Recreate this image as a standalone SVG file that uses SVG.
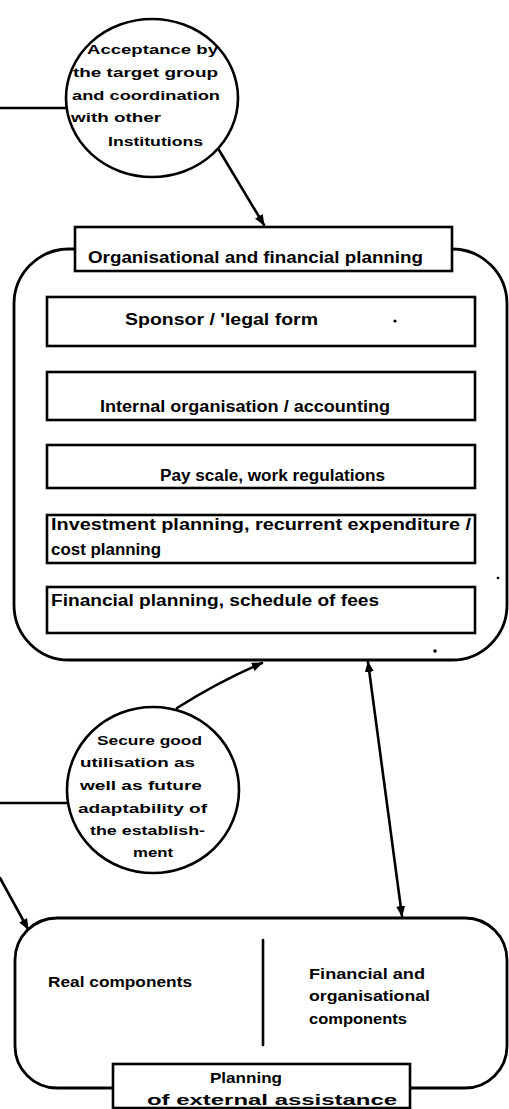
<svg xmlns="http://www.w3.org/2000/svg" width="509" height="1109" viewBox="0 0 509 1109">
  <style>
    .ln { fill: none; stroke: #000; stroke-width: 2.6; stroke-linecap: round; stroke-linejoin: round; }
    .frame { fill: #fff; stroke: #000; stroke-width: 2.8; }
    .box { fill: #fff; stroke: #000; stroke-width: 2.6; }
    .bubble { fill: #fff; stroke: #000; stroke-width: 2.6; }
    text { font-family: "Liberation Sans", Arial, sans-serif; font-weight: bold; fill: #000; }
    .t16 { font-size: 16px; }
    .t15 { font-size: 15.5px; }
    .t14 { font-size: 14px; }
    .t13 { font-size: 13.5px; }
    .speck { fill: #000; }
  </style>
  <defs>
    <marker id="head" markerUnits="userSpaceOnUse" markerWidth="11" markerHeight="9" refX="10" refY="4.5" orient="auto-start-reverse">
      <path d="M0,0 L11,4.5 L0,9 Z" fill="#000"/>
    </marker>
  </defs>

  <rect width="509" height="1109" fill="#fff"/>

  <!-- connectors -->
  <g id="connectors">
    <line class="ln" x1="0" y1="108" x2="67" y2="108"/>
    <line class="ln" x1="219" y1="150" x2="264" y2="225" marker-end="url(#head)"/>
    <line class="ln" x1="0" y1="803" x2="68" y2="803"/>
    <path class="ln" d="M177,708 Q218,682 262,663" marker-end="url(#head)"/>
    <line class="ln" x1="0" y1="878" x2="28" y2="929" marker-end="url(#head)"/>
    <line class="ln" x1="368" y1="662" x2="402" y2="916" marker-start="url(#head)" marker-end="url(#head)"/>
  </g>

  <!-- upper frame: organisational and financial planning -->
  <g id="org-frame">
    <rect class="frame" x="14" y="249" width="493" height="411" rx="55" ry="55"/>
    <rect class="box" x="75" y="227" width="377" height="44"/>
    <text class="t16" x="88" y="263" textLength="335" lengthAdjust="spacingAndGlyphs">Organisational and financial planning</text>
  </g>

  <g id="sponsor">
    <rect class="box" x="47" y="297" width="428" height="49"/>
    <text class="t16" x="125" y="325" textLength="193" lengthAdjust="spacingAndGlyphs">Sponsor / 'legal form</text>
  </g>

  <g id="internal-organisation">
    <rect class="box" x="47" y="372" width="428" height="48"/>
    <text class="t16" x="100" y="412" textLength="290" lengthAdjust="spacingAndGlyphs">Internal organisation / accounting</text>
  </g>

  <g id="pay-scale">
    <rect class="box" x="47" y="445" width="428" height="43"/>
    <text class="t16" x="160" y="481" textLength="225" lengthAdjust="spacingAndGlyphs">Pay scale, work regulations</text>
  </g>

  <g id="investment-planning">
    <rect class="box" x="47" y="515" width="428" height="48"/>
    <text class="t16" x="51" y="530" textLength="420" lengthAdjust="spacingAndGlyphs">Investment planning, recurrent expenditure /</text>
    <text class="t16" x="51" y="555" textLength="110" lengthAdjust="spacingAndGlyphs">cost planning</text>
  </g>

  <g id="financial-planning">
    <rect class="box" x="47" y="587" width="428" height="46"/>
    <text class="t16" x="51" y="606" textLength="328" lengthAdjust="spacingAndGlyphs">Financial planning, schedule of fees</text>
  </g>

  <!-- stray pen dots -->
  <circle class="speck" cx="395" cy="321" r="1.6"/>
  <circle class="speck" cx="498" cy="578" r="1.3"/>
  <circle class="speck" cx="435" cy="651" r="1.8"/>

  <!-- acceptance bubble -->
  <g id="acceptance">
    <ellipse class="bubble" cx="152" cy="98" rx="86" ry="79"/>
    <text class="t13" x="87" y="54" textLength="131" lengthAdjust="spacingAndGlyphs">Acceptance by</text>
    <text class="t13" x="73" y="77" textLength="145" lengthAdjust="spacingAndGlyphs">the target group</text>
    <text class="t13" x="72" y="100" textLength="148" lengthAdjust="spacingAndGlyphs">and coordination</text>
    <text class="t13" x="71" y="122" textLength="90" lengthAdjust="spacingAndGlyphs">with other</text>
    <text class="t13" x="108" y="146" textLength="95" lengthAdjust="spacingAndGlyphs">Institutions</text>
  </g>

  <!-- utilisation bubble -->
  <g id="utilisation">
    <ellipse class="bubble" cx="153" cy="790" rx="86" ry="83"/>
    <text class="t13" x="97" y="745" textLength="105" lengthAdjust="spacingAndGlyphs">Secure good</text>
    <text class="t13" x="80" y="767" textLength="115" lengthAdjust="spacingAndGlyphs">utilisation as</text>
    <text class="t13" x="80" y="790" textLength="122" lengthAdjust="spacingAndGlyphs">well as future</text>
    <text class="t13" x="78" y="813" textLength="129" lengthAdjust="spacingAndGlyphs">adaptability of</text>
    <text class="t13" x="90" y="835" textLength="115" lengthAdjust="spacingAndGlyphs">the establish-</text>
    <text class="t13" x="133" y="857" textLength="40" lengthAdjust="spacingAndGlyphs">ment</text>
  </g>

  <!-- lower frame: planning of external assistance -->
  <g id="assistance-frame">
    <rect class="frame" x="15" y="918" width="492" height="170" rx="42" ry="42"/>
    <line class="ln" x1="263" y1="940" x2="263" y2="1045"/>
    <text class="t15" x="48" y="987" textLength="144" lengthAdjust="spacingAndGlyphs">Real components</text>
    <text class="t15" x="309" y="979" textLength="116" lengthAdjust="spacingAndGlyphs">Financial and</text>
    <text class="t15" x="309" y="1001" textLength="121" lengthAdjust="spacingAndGlyphs">organisational</text>
    <text class="t15" x="309" y="1024" textLength="98" lengthAdjust="spacingAndGlyphs">components</text>
    <rect class="box" x="113" y="1064" width="297" height="44"/>
    <text class="t14" x="210" y="1083" textLength="72" lengthAdjust="spacingAndGlyphs">Planning</text>
    <text class="t14" x="147" y="1105" textLength="250" lengthAdjust="spacingAndGlyphs">of external assistance</text>
  </g>
</svg>
